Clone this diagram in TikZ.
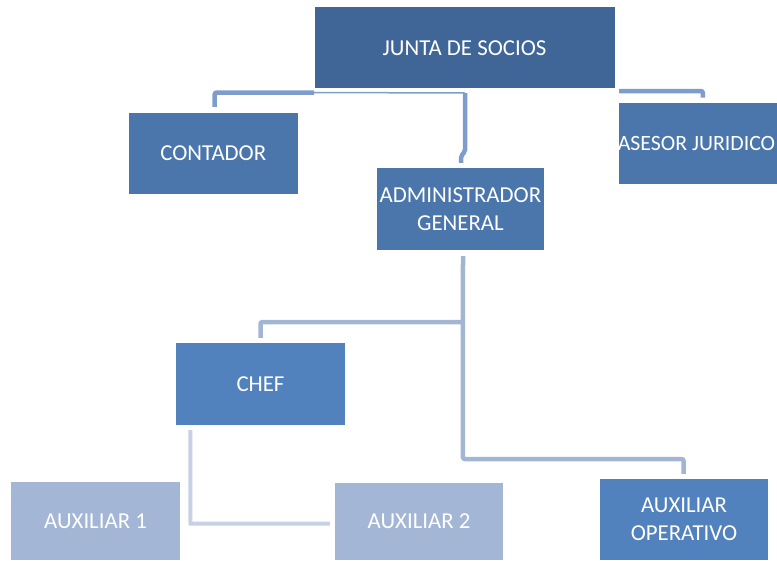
\documentclass[tikz,border=0pt]{standalone}
\usepackage{fontspec}
\setmainfont{Carlito}
\usetikzlibrary{calc}
\definecolor{cdark}{HTML}{3F6696}
\definecolor{cmid}{HTML}{4A76AC}
\definecolor{cbright}{HTML}{5282BE}
\definecolor{clight}{HTML}{A3B6D5}
\definecolor{lineA}{HTML}{7E9DCC}
\definecolor{lineB}{HTML}{A2B6D4}
\definecolor{lineC}{HTML}{C6D1E4}
\tikzset{
  orgbox/.style={draw=none, inner sep=0pt, text=white, align=center,
    font=\fontsize{22.8}{28}\selectfont},
  conA/.style={draw=lineA, line width=4.5pt, rounded corners=2pt},
  conAthin/.style={draw=lineA, line width=1.5pt},
  conB/.style={draw=lineB, line width=4.5pt, rounded corners=2pt},
  conC/.style={draw=lineC, line width=4pt},
}
\begin{document}
\begin{tikzpicture}[x=1pt,y=-1pt]
\useasboundingbox (0,0) rectangle (777,560);
\coordinate (jl) at (314,92.5);
\coordinate (jc) at (465,93);
\coordinate (jr) at (619,91);
% boxes
\node[orgbox, fill=cdark, minimum width=300, minimum height=81] (junta) at (464.5,47.8) {JUNTA DE SOCIOS};
\node[orgbox, fill=cmid, minimum width=168.5, minimum height=81] (contador) at (213.3,153.5) {CONTADOR};
\node[orgbox, fill=cmid, minimum width=167.5, minimum height=82] (admin) at (460.4,209) {ADMINISTRADOR\\GENERAL};
\node[orgbox, fill=cmid, minimum width=158.5, minimum height=81.5] (asesor) at (697.8,143.5) {};
\node[text=white, inner sep=0pt, font=\fontsize{21.8}{28}\selectfont] (asesortxt) at (696.5,143.5) {ASESOR JURIDICO};
\node[orgbox, fill=cbright, minimum width=169, minimum height=82] (chef) at (260.5,384) {CHEF};
\node[orgbox, fill=clight, minimum width=169, minimum height=78] (aux1) at (95.5,521) {AUXILIAR 1};
\node[orgbox, fill=clight, minimum width=168, minimum height=77] (aux2) at (419,521.5) {AUXILIAR 2};
\node[orgbox, fill=cbright, minimum width=168, minimum height=81] (auxop) at (684,519.5) {AUXILIAR\\OPERATIVO};
% top connectors
\draw[conA] (jl) -| ($(contador.north)+(1.4,-6)$);
\draw[conAthin] (jl) -- (jc);
\draw[conA] (jc) -- ($(admin.north)+(4.6,-16)$) -- ($(admin.north)+(0.6,-12)$) -- ($(admin.north)+(0.6,-5)$);
\draw[conA] (jr) -| ($(asesor.north)+(5,-5)$);
% middle connectors
\coordinate (mtop) at ($(admin.south)+(2.6,6)$);
\coordinate (mbr) at (462.9,322);
\draw[conB] (mtop) -- (462.9,459) -| ($(auxop.north)+(-0.5,-5)$);
\draw[conB] (mbr) -| ($(chef.north)+(0,-5)$);
% chef connector
\draw[conC] ($(chef.south west)+(14.5,5)$) -- (190.5,523.5) -- ($(aux2.west)+(-5,2)$);
\end{tikzpicture}
\end{document}
